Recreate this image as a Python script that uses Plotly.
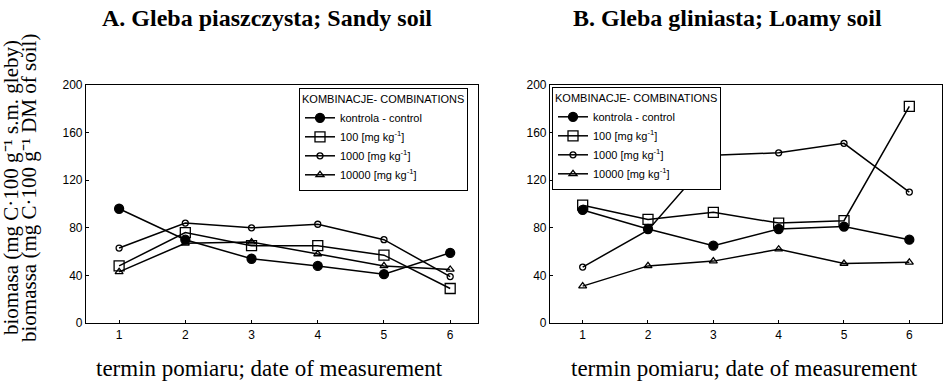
import plotly.graph_objects as go

terms = [1, 2, 3, 4, 5, 6]
tick_vals_y = [0, 40, 80, 120, 160, 200]

# Panel A: sandy soil
a_control = [96, 70, 54, 48, 41, 59]
a_100 = [48, 76, 65, 65, 57, 29]
a_1000 = [63, 84, 80, 83, 70, 39]
a_10000 = [43, 67, 68, 58, 48, 45]

# Panel B: loamy soil
b_control = [95, 79, 65, 79, 81, 70]
b_100 = [99, 87, 93, 84, 86, 182]
b_1000 = [47, 78, 141, 143, 151, 110]
b_10000 = [31, 48, 52, 62, 50, 51]

names = ["kontrola - control", "100 [mg kg<sup>-1</sup>]",
         "1000 [mg kg<sup>-1</sup>]", "10000 [mg kg<sup>-1</sup>]"]
symbols = ["circle", "square-open", "circle-open", "triangle-up-open"]
sizes = [9, 10, 6, 7]

fig = go.Figure()

panels = [
    ([a_control, a_100, a_1000, a_10000], "x", "y", "legend"),
    ([b_control, b_100, b_1000, b_10000], "x2", "y2", "legend2"),
]
for series, xa, ya, lg in panels:
    for vals, nm, sym, sz in zip(series, names, symbols, sizes):
        fig.add_trace(go.Scatter(
            x=terms, y=vals, name=nm, mode="lines+markers",
            line=dict(color="black", width=1.5),
            marker=dict(symbol=sym, size=sz, color="black",
                        line=dict(color="black", width=1.3)),
            xaxis=xa, yaxis=ya, legend=lg,
        ))

axis_common = dict(showline=True, linecolor="black", linewidth=1.2, mirror=True,
                   showgrid=False, zeroline=False, ticks="inside", ticklen=3,
                   tickcolor="black", automargin=False,
                   tickfont=dict(family="Liberation Sans, Arial", size=12, color="black"))

legend_font = dict(family="Liberation Sans, Arial", size=11, color="black")

fig.update_layout(
    width=947, height=381,
    margin=dict(l=0, r=0, t=0, b=0, pad=0, autoexpand=False),
    paper_bgcolor="white", plot_bgcolor="white",
    showlegend=True,
    xaxis=dict(domain=[0.09081, 0.50475], range=[0.5, 6.42], tickvals=terms, **axis_common),
    yaxis=dict(domain=[0.15223, 0.77690], range=[0, 200], tickvals=tick_vals_y, **axis_common),
    xaxis2=dict(domain=[0.58078, 0.99472], range=[0.5, 6.5], tickvals=terms, anchor="y2", **axis_common),
    yaxis2=dict(domain=[0.15223, 0.77690], range=[0, 200], tickvals=tick_vals_y, anchor="x2", **axis_common),
    legend=dict(x=0.31573, y=0.76903, xanchor="left", yanchor="top",
                bgcolor="white", bordercolor="black", borderwidth=1,
                font=legend_font,
                title=dict(text="KOMBINACJE- COMBINATIONS", font=legend_font),
                itemwidth=30, tracegroupgap=0),
    legend2=dict(x=0.58290, y=0.77165, xanchor="left", yanchor="top",
                 bgcolor="white", bordercolor="black", borderwidth=1,
                 font=legend_font,
                 title=dict(text="KOMBINACJE- COMBINATIONS", font=legend_font),
                 itemwidth=30, tracegroupgap=0),
)

serif = "Liberation Serif, Times New Roman, serif"
ann = [
    dict(text="<b>A. Gleba piaszczysta; Sandy soil</b>", x=0.28247, y=0.95276, size=24),
    dict(text="<b>B. Gleba gliniasta; Loamy soil</b>", x=0.76769, y=0.95276, size=24),
    dict(text="termin pomiaru; date of measurement", x=0.28511, y=0.03412, size=23),
    dict(text="termin pomiaru; date of measurement", x=0.78669, y=0.03412, size=23),
]
for a in ann:
    fig.add_annotation(text=a["text"], x=a["x"], y=a["y"], xref="paper", yref="paper",
                       xanchor="center", yanchor="middle", showarrow=False,
                       font=dict(family=serif, size=a["size"], color="black"))

fig.add_annotation(text="biomasa (mg C·100 g⁻¹ s.m. gleby)", x=0.01162, y=0.50656,
                   xref="paper", yref="paper", xanchor="center", yanchor="middle",
                   showarrow=False, textangle=-90,
                   font=dict(family=serif, size=21, color="black"))
fig.add_annotation(text="biomassa (mg C·100 g⁻¹ DM of soil)", x=0.03062, y=0.50656,
                   xref="paper", yref="paper", xanchor="center", yanchor="middle",
                   showarrow=False, textangle=-90,
                   font=dict(family=serif, size=21, color="black"))

fig.write_html("out.html", config={"displayModeBar": False},
               post_script="document.body.style.margin='0px';")
